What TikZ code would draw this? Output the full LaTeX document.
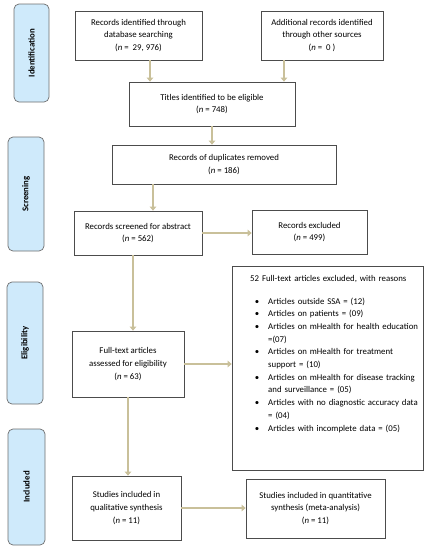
\documentclass[tikz,border=0pt]{standalone}
\usepackage{fontspec}
\setmainfont{Carlito}
\usepackage{enumitem}
\usetikzlibrary{arrows.meta}
\definecolor{flowtan}{RGB}{201,192,154}
\definecolor{stagefill}{RGB}{207,234,251}
\definecolor{stageline}{RGB}{110,110,110}
\newcommand{\boxfont}{\fontsize{8.8}{12.7}\selectfont}
\begin{document}
\begin{tikzpicture}[x=1pt,y=-1pt,
    box/.style={draw=black!70,line width=0.7pt,align=center,inner sep=2pt,font=\boxfont},
    stage/.style={draw=stageline,fill=stagefill,line width=0.7pt,rounded corners=5pt,rotate=90,font=\boxfont\bfseries},
    flow/.style={draw=flowtan,line width=2.4pt,-{Triangle[width=6.5pt,length=4pt]}}]
\useasboundingbox (0,0) rectangle (429,550);

% stages
\node[stage,minimum width=98,minimum height=35] (ident) at (31.5,53) {Identification};
\node[stage,minimum width=114,minimum height=36] (screen) at (26,194) {Screening};
\node[stage,minimum width=122,minimum height=36] (elig) at (25,343) {Eligibility};
\node[stage,minimum width=116,minimum height=37] (incl) at (26.5,487) {Included};

% boxes
\node[box,minimum width=127,minimum height=49] (dbsearch) at (138.5,35.5)
    {Records identified through\\database searching\\(\textit{n} =\ \ 29, 976)};
\node[box,minimum width=122,minimum height=49] (othersrc) at (322,35.5)
    {Additional records identified\\through other sources\\(\textit{n} =\ \ 0 )};
\node[box,minimum width=166,minimum height=44] (eligible) at (212,104)
    {Titles identified to be eligible\\(\textit{n} = 748)};
\node[box,minimum width=224,minimum height=39] (duplicates) at (224,164.5)
    {Records of duplicates removed\\(\textit{n} = 186)};
\node[box,minimum width=128,minimum height=44] (screened) at (138,233)
    {Records screened for abstract\\(\textit{n} = 562)};
\node[box,minimum width=115,minimum height=44] (excluded) at (309.5,232)
    {Records excluded\\(\textit{n} = 499)};
\node[box,minimum width=112,minimum height=66] (fulltext) at (128,364)
    {Full-text articles\\assessed for eligibility\\(\textit{n} = 63)};
\node[box,minimum width=191,minimum height=204] (reasons) at (327.5,368) {};
\node[anchor=north west,text width=180pt,align=left,inner sep=0pt,font=\boxfont] (reasonlist) at (250,275)
    {52 Full-text articles excluded, with reasons
    \begin{itemize}[leftmargin=18pt,labelsep=9pt,itemsep=0pt,parsep=0pt,topsep=10pt,label={\textbullet}]
    \item Articles outside SSA = (12)
    \item Articles on patients = (09)
    \item Articles on mHealth for health education\newline =(07)
    \item Articles on mHealth for treatment\newline support = (10)
    \item Articles on mHealth for disease tracking\newline and surveillance = (05)
    \item Articles with no diagnostic accuracy data\newline = (04)
    \item Articles with incomplete data = (05)
    \end{itemize}};
\node[box,minimum width=109,minimum height=64] (qualitative) at (126.5,508)
    {Studies included in\\qualitative synthesis\\(\textit{n} = 11)};
\node[box,minimum width=139,minimum height=59] (quantitative) at (315.5,508.5)
    {Studies included in quantitative\\synthesis (meta-analysis)\\(\textit{n} = 11)};

% arrows
\draw[flow] ([xshift=11.5]dbsearch.south) -- ([xshift=11.5]dbsearch.south |- eligible.north);
\draw[flow] ([xshift=-38]othersrc.south) -- ([xshift=-38]othersrc.south |- eligible.north);
\draw[flow] (eligible.south) -- (eligible.south |- duplicates.north);
\draw[flow] ([xshift=15]screened.north |- duplicates.south) -- ([xshift=15]screened.north);
\draw[flow] (screened.east) -- (screened.east -| excluded.west);
\draw[flow] ([xshift=-5]screened.south) -- ([xshift=-5]screened.south |- fulltext.north);
\draw[flow] (fulltext.east) -- (fulltext.east -| reasons.west);
\draw[flow] (fulltext.south) -- (fulltext.south |- qualitative.north);
\draw[flow] (qualitative.east) -- (qualitative.east -| quantitative.west);
\end{tikzpicture}
\end{document}
